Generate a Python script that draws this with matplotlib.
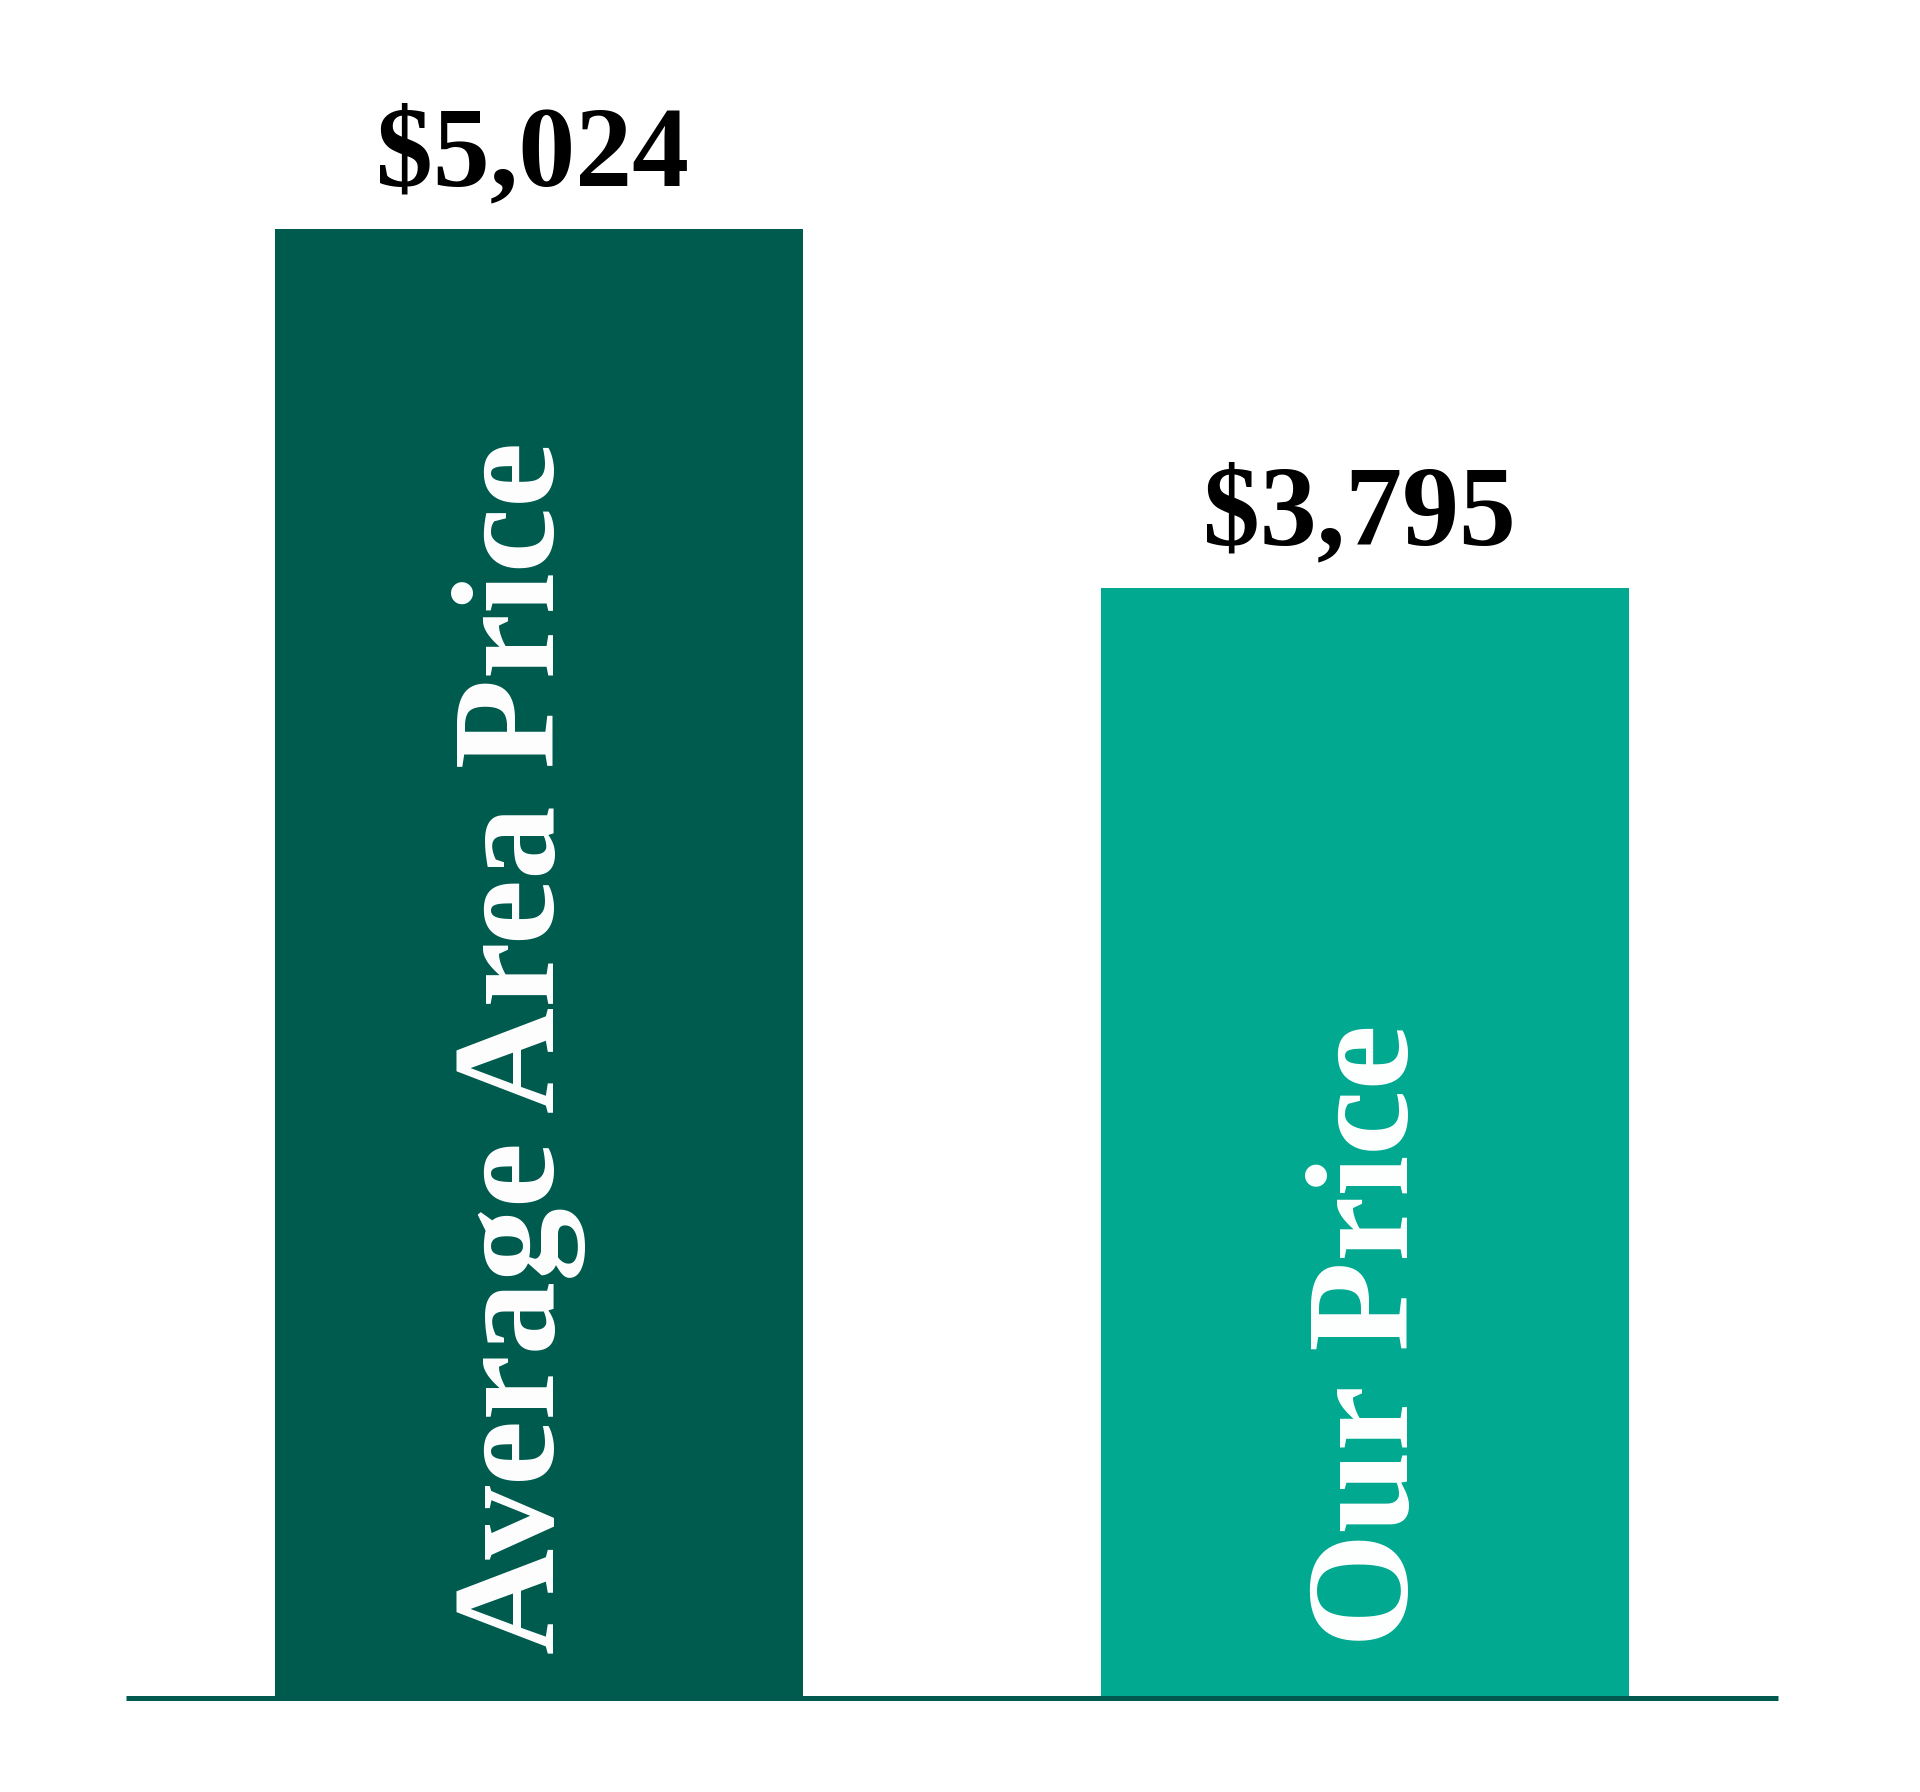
import matplotlib.pyplot as plt

# dados
categorias = ["Average Area Price", "Our Price"]
precos = [5024, 3795]
rotulos = ["$5,024", "$3,795"]

# estilo
cores = ["#005B4F", "#00A98F"]
corLinha = "#005A50"
fonte = ["Liberation Serif", "DejaVu Serif"]
desvioTexto = [(15, 44), (43, 51)]   # deslocamento (px) dos nomes dentro das barras

fig = plt.figure(figsize=(19.2, 17.92), dpi=100)
ax = fig.add_axes([126/1920, 94/1792, 1652/1920, (1563 - 94)/1792])

x = range(len(categorias))
ax.bar(x, precos, width=0.64, color=cores, zorder=2)

ax.set_xlim(-0.5, 1.5)
ax.set_ylim(0, max(precos))
ax.axhline(0, color=corLinha, linewidth=3.6, zorder=3, clip_on=False,
           solid_capstyle="butt")
ax.axis("off")

for i in x:
    # valor acima da barra
    ax.annotate(rotulos[i], xy=(i, precos[i]), xytext=(-6, 44),
                textcoords="offset pixels", ha="center", va="baseline",
                fontsize=82, fontweight="bold", family=fonte, color="black",
                annotation_clip=False)
    # nome dentro da barra
    dx, dy = desvioTexto[i]
    ax.annotate(categorias[i], xy=(i, 0), xytext=(dx, dy),
                textcoords="offset pixels", rotation=90, rotation_mode="anchor",
                ha="left", va="baseline", fontsize=106, fontweight="bold",
                family=fonte, color="white", zorder=4)

fig.savefig("out.png", dpi=100, facecolor="white")
plt.close(fig)
